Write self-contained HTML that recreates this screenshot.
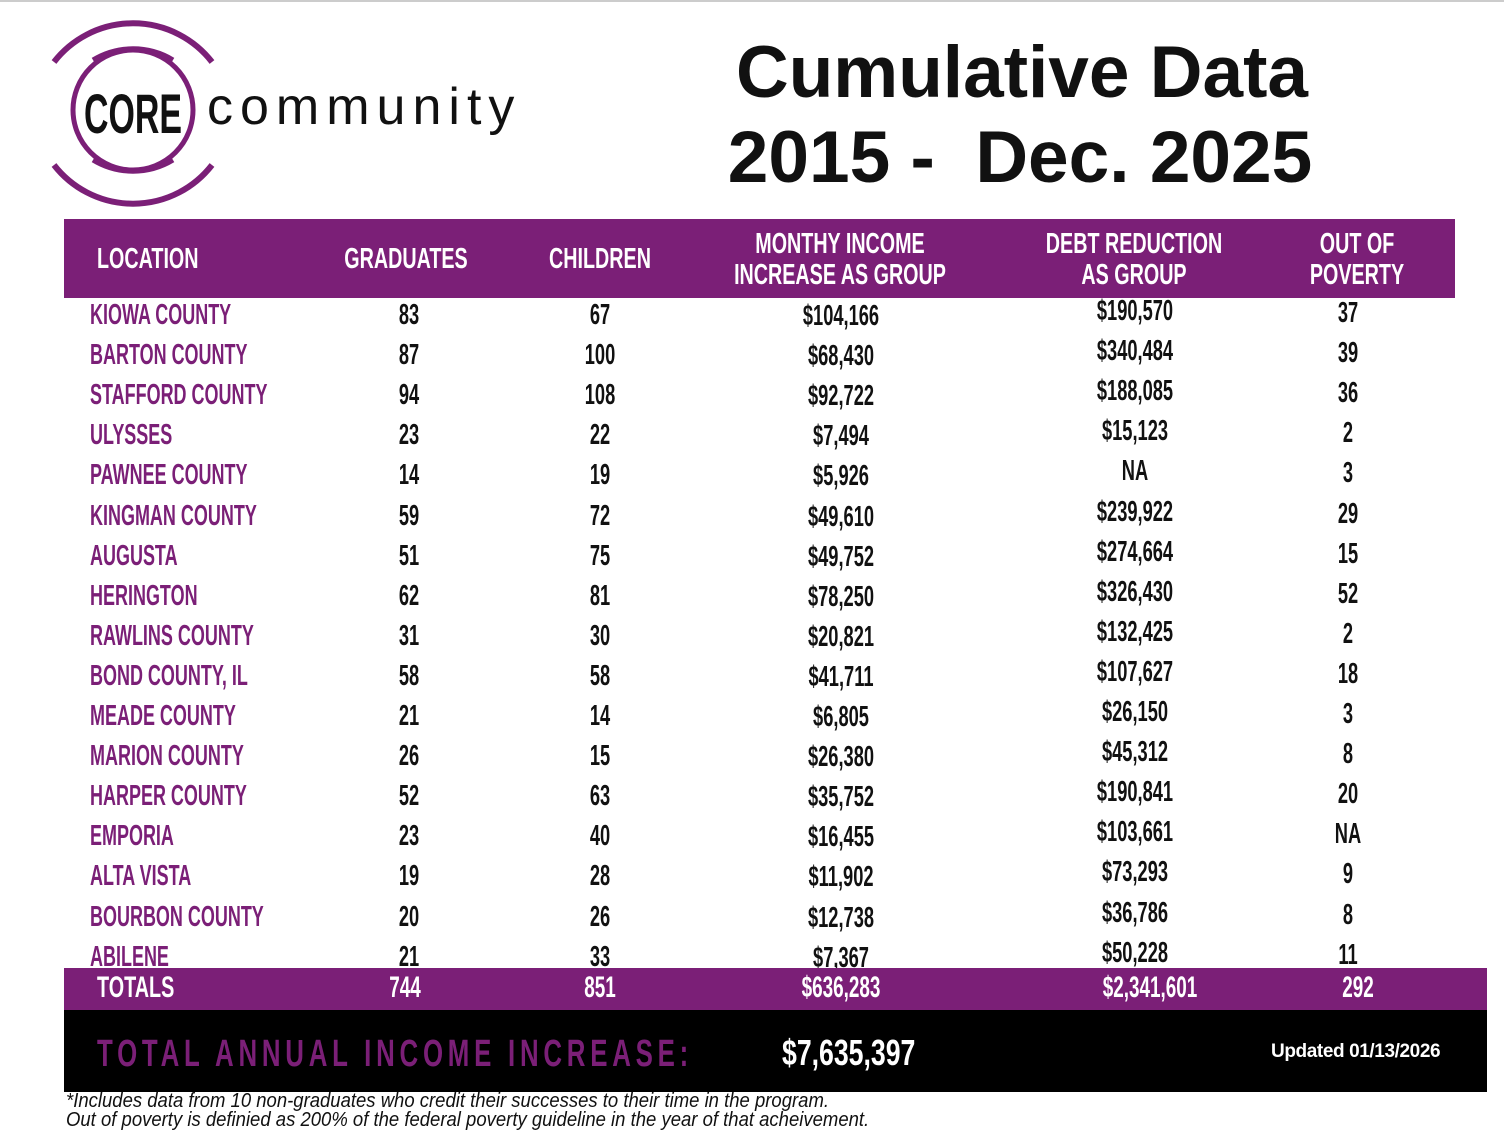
<!DOCTYPE html>
<html><head><meta charset="utf-8"><style>
*{margin:0;padding:0;box-sizing:border-box}
body{width:1504px;height:1144px;background:#fff;position:relative;overflow:hidden;font-family:"Liberation Sans",sans-serif}
.t{position:absolute;white-space:nowrap;font-weight:bold;font-size:29px;line-height:1;transform-origin:0 0;transform:scaleX(.62)}
.c{transform-origin:50% 0;transform:translateX(-50%) scaleX(.63)}
.h{transform:scaleX(.68)}
.h.c{transform:translateX(-50%) scaleX(.68)}
.p{color:#7b1f77}
.w{color:#fff}
.k{color:#111}
</style></head><body>
<div style="position:absolute;left:0;top:0;width:1504px;height:2px;background:#ccc"></div>
<svg style="position:absolute;left:40px;top:0" width="500" height="220">
<g fill="none" stroke="#7b1f77">
<circle cx="93" cy="110" r="60" stroke-width="5"/>
<path d="M53 60 A77 77 0 0 1 133 60" stroke-width="5"/>
<path d="M53 160 A77 77 0 0 0 133 160" stroke-width="5"/>
<path d="M14 62 A100 100 0 0 1 172 62" stroke-width="6"/>
<path d="M14 165 A100 100 0 0 0 172 165" stroke-width="6"/>
</g>
<text x="44" y="133" textLength="98" lengthAdjust="spacingAndGlyphs" font-family="Liberation Sans,sans-serif" font-weight="bold" font-size="56" fill="#111">CORE</text>
<text x="167" y="124" font-family="Liberation Sans,sans-serif" font-size="52" letter-spacing="7" fill="#111">community</text>
</svg>
<div class="t k c" style="left:1022px;top:36px;font-size:73px;transform:translateX(-50%)">Cumulative Data</div>
<div class="t k c" style="left:1020px;top:121px;font-size:73px;transform:translateX(-50%)">2015 -&nbsp; Dec. 2025</div>
<div style="position:absolute;left:64px;top:219px;width:1391px;height:79px;background:#7b1f77"></div>
<div class="t w h" style="left:97px;top:245px">LOCATION</div>
<div class="t w h c" style="left:406px;top:245px">GRADUATES</div>
<div class="t w h c" style="left:600px;top:245px">CHILDREN</div>
<div class="t w h c" style="left:840px;top:229px;text-align:center;line-height:31px">MONTHY INCOME<br>INCREASE AS GROUP</div>
<div class="t w h c" style="left:1134px;top:229px;text-align:center;line-height:31px">DEBT REDUCTION<br>AS GROUP</div>
<div class="t w h c" style="left:1357px;top:229px;text-align:center;line-height:31px">OUT OF<br>POVERTY</div>
<div id="rows"></div>
<div style="position:absolute;left:64px;top:968px;width:1423px;height:42px;background:#7b1f77"></div>
<div class="t w" style="left:97px;top:973px;font-size:30px;transform:scaleX(.66)">TOTALS</div>
<div class="t w c" style="left:405px;top:973px;font-size:30px">744</div>
<div class="t w c" style="left:600px;top:973px;font-size:30px">851</div>
<div class="t w c" style="left:841px;top:973px;font-size:30px">$636,283</div>
<div class="t w c" style="left:1150px;top:973px;font-size:30px">$2,341,601</div>
<div class="t w c" style="left:1358px;top:973px;font-size:30px">292</div>
<div style="position:absolute;left:64px;top:1010px;width:1423px;height:82px;background:#000"></div>
<div class="t p" style="left:97px;top:1035px;font-size:38px;letter-spacing:7px;transform:scaleX(.68)">TOTAL ANNUAL INCOME INCREASE:</div>
<div class="t w" style="left:782px;top:1035px;font-size:36px;transform:scaleX(.74)">$7,635,397</div>
<div class="t w" style="left:1271px;top:1042px;font-size:19px;letter-spacing:-0.4px;transform:none">Updated 01/13/2026</div>
<div style="position:absolute;left:66px;top:1092px;font-style:italic;font-size:20px;line-height:19px;color:#111;white-space:nowrap;transform-origin:0 0;transform:scaleX(.925)">*Includes data from 10 non-graduates who credit their successes to their time in the program.<br>Out of poverty is definied as 200% of the federal poverty guideline in the year of that acheivement.</div>
<script>
var d=[["KIOWA COUNTY","83","67","$104,166","$190,570","37"],["BARTON COUNTY","87","100","$68,430","$340,484","39"],["STAFFORD COUNTY","94","108","$92,722","$188,085","36"],["ULYSSES","23","22","$7,494","$15,123","2"],["PAWNEE COUNTY","14","19","$5,926","NA","3"],["KINGMAN COUNTY","59","72","$49,610","$239,922","29"],["AUGUSTA","51","75","$49,752","$274,664","15"],["HERINGTON","62","81","$78,250","$326,430","52"],["RAWLINS COUNTY","31","30","$20,821","$132,425","2"],["BOND COUNTY, IL","58","58","$41,711","$107,627","18"],["MEADE COUNTY","21","14","$6,805","$26,150","3"],["MARION COUNTY","26","15","$26,380","$45,312","8"],["HARPER COUNTY","52","63","$35,752","$190,841","20"],["EMPORIA","23","40","$16,455","$103,661","NA"],["ALTA VISTA","19","28","$11,902","$73,293","9"],["BOURBON COUNTY","20","26","$12,738","$36,786","8"],["ABILENE","21","33","$7,367","$50,228","11"]];
var h="";d.forEach(function(r,i){var y=Math.round(301+i*40.1);
h+='<div class="t p" style="left:90px;top:'+y+'px">'+r[0]+'</div>';
h+='<div class="t k c" style="left:409px;top:'+y+'px">'+r[1]+'</div>';
h+='<div class="t k c" style="left:600px;top:'+y+'px">'+r[2]+'</div>';
h+='<div class="t k c" style="left:841px;top:'+(y+1)+'px">'+r[3]+'</div>';
h+='<div class="t k c" style="left:1135px;top:'+(y-4)+'px">'+r[4]+'</div>';
h+='<div class="t k c" style="left:1348px;top:'+(y-2)+'px">'+r[5]+'</div>';});
document.getElementById("rows").innerHTML=h;
</script>
</body></html>
